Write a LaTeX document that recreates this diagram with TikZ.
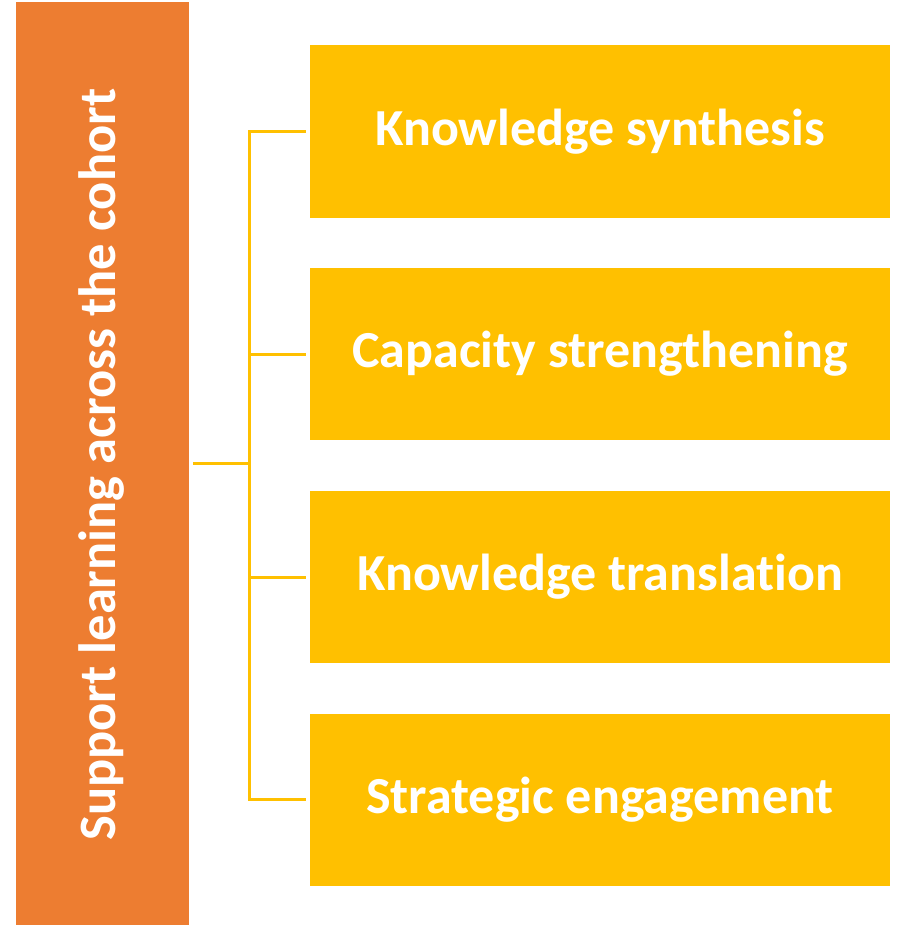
\documentclass[tikz,border=0pt]{standalone}
\usepackage{fontspec}
\setmainfont{Carlito}[Ligatures=NoCommon]
\usetikzlibrary{positioning}
\definecolor{cohortorange}{HTML}{ED7D31}
\definecolor{strandyellow}{HTML}{FFC000}
\tikzset{strand/.style={fill=strandyellow,text=white,inner sep=0pt,minimum width=580pt,minimum height=172.5pt,font=\fontsize{52}{60}\selectfont\bfseries}}

\begin{document}
\begin{tikzpicture}[x=1pt,y=-1pt,link/.style={draw=strandyellow,line width=3pt}]
        \useasboundingbox (0,0) rectangle (899,927);
        \node[fill=cohortorange,inner sep=0pt,minimum width=173pt,minimum height=923pt,anchor=north west] (cohort) at (16,2) {};
        \node[rotate=90,text=white,font=\fontsize{52.5}{60}\selectfont\bfseries] (cohortlabel) at ([xshift=-1pt,yshift=-1pt]cohort.center) {Support learning across the cohort};
        \node[strand] (synthesis) at (600,131.25) {Knowledge synthesis};
        \node[strand,below=50pt of synthesis] (capacity) {Capacity strengthening};
        \node[strand,below=50pt of capacity] (translation) {Knowledge translation};
        \node[strand,below=50pt of translation] (strategic) {Strategic engagement};
        \coordinate (trunk) at (249,0);
        \draw[link] ([xshift=4pt]cohort.east) -- (trunk |- cohort.east);
        \draw[link] ([xshift=-4pt]synthesis.west) -| (trunk |- strategic.west) -- ([xshift=-4pt]strategic.west);
        \foreach \n in {capacity,translation}
            \draw[link] (trunk |- \n.west) -- ([xshift=-4pt]\n.west);
    \end{tikzpicture}
\end{document}
